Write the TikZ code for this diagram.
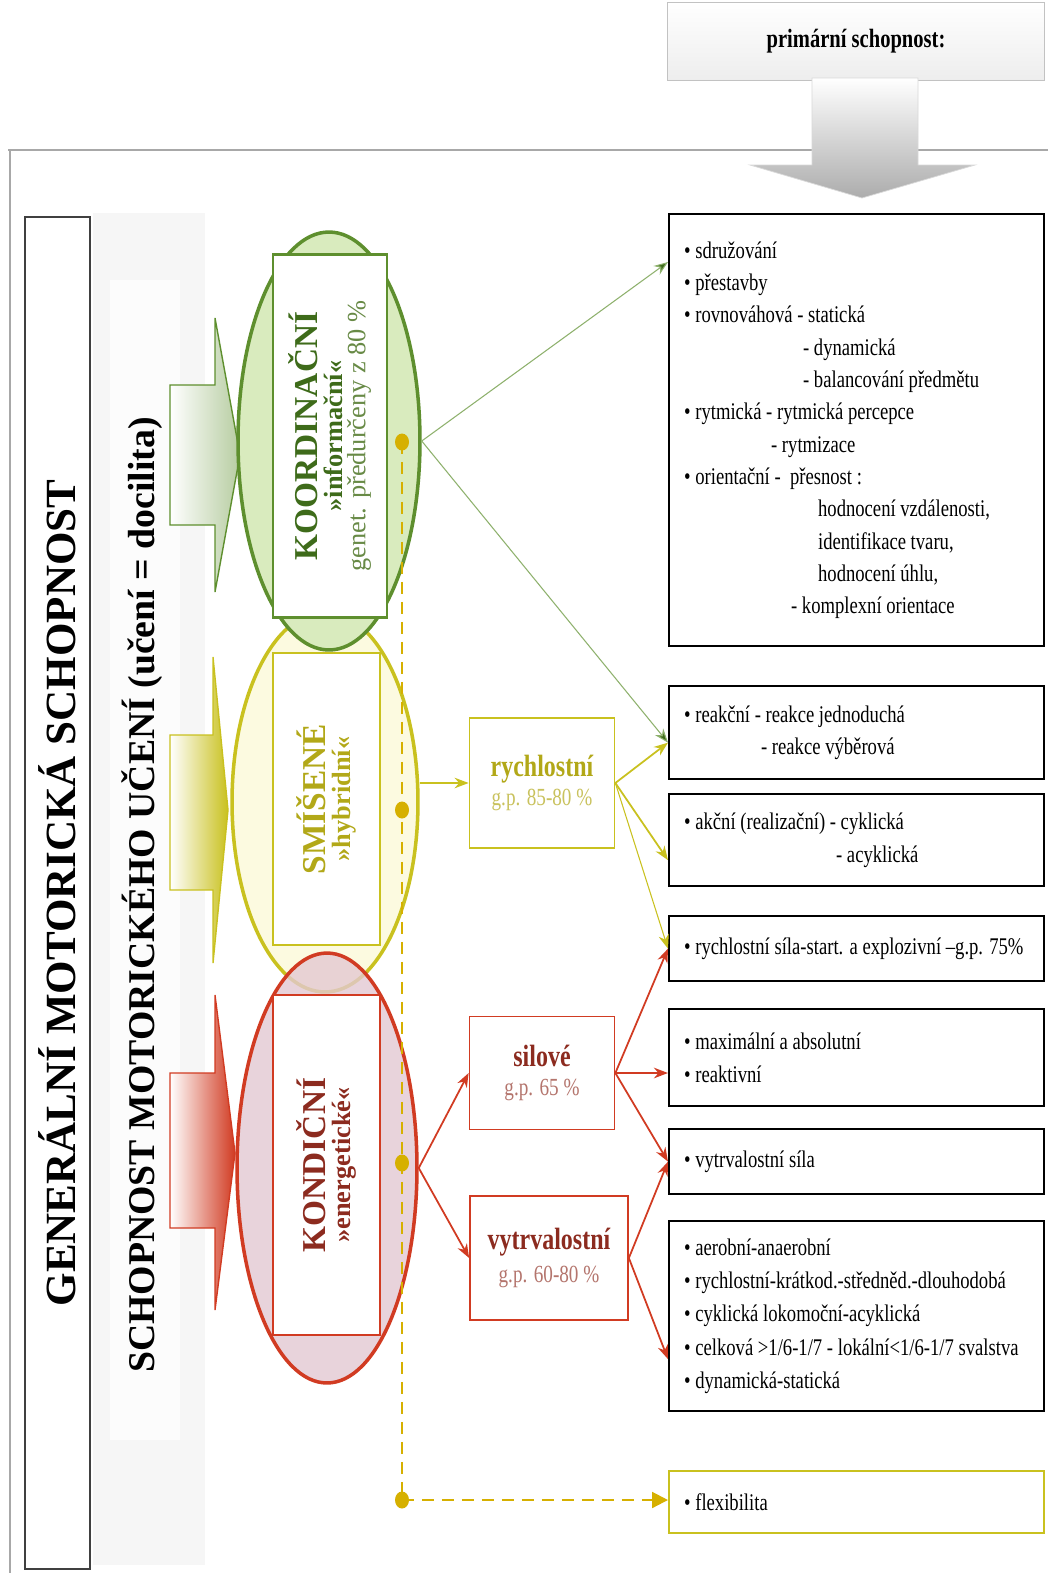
\documentclass[tikz,border=0pt]{standalone}
\usepackage{fontspec}
\setmainfont{Liberation Serif}
\newfontfamily\narrowfont{Liberation Serif}[FakeStretch=0.78,WordSpace=1.0]
\usetikzlibrary{arrows.meta,shapes.geometric}

\definecolor{koordgreen}{HTML}{5E8F2E}
\definecolor{koordfill}{HTML}{D9EBBE}
\definecolor{koordtext}{HTML}{3E6B1A}
\definecolor{smisyellow}{HTML}{C9C11F}
\definecolor{smisfill}{HTML}{FCFAE0}
\definecolor{smistext}{HTML}{B2A818}
\definecolor{kondred}{HTML}{D13B22}
\definecolor{kondfill}{HTML}{E3C9D2}
\definecolor{kondtext}{HTML}{8C2B1F}
\definecolor{dotgold}{HTML}{D6B000}
\definecolor{framegray}{HTML}{A8A8A8}

\tikzset{
	rbox/.style={draw=black, line width=1.3pt, fill=white, anchor=north west, align=flush left,
		text width=6.9cm, inner xsep=0.3cm, inner ysep=0pt,
		font=\narrowfont\fontsize{13.6}{18.4}\selectfont},
	mbox/.style={draw, line width=1pt, fill=white, align=center, inner sep=0pt,
		font=\narrowfont\fontsize{14}{16.5}\selectfont},
	ebox/.style={draw, line width=1.2pt, fill=white, rotate=90, align=center, inner sep=0pt,
		font=\fontsize{15}{13}\selectfont},
	blob/.style={ellipse, line width=2pt, inner sep=0pt},
	gline/.style={draw=koordgreen!70, line width=0.6pt, -{Stealth[length=8pt,width=6pt,fill=koordtext]}},
	yline/.style={draw=smisyellow, line width=1pt, -{Stealth[length=8pt,width=6pt]}},
	rline/.style={draw=kondred, line width=1pt, -{Stealth[length=8pt,width=6pt]}},
	dashline/.style={draw=dotgold, line width=1.2pt, dash pattern=on 0.24cm off 0.16cm},
}

\begin{document}
\begin{tikzpicture}[x=0.02cm,y=-0.02cm]
	\useasboundingbox (0,0) rectangle (1048,1573);
	\fill[white] (0,0) rectangle (1048,1573);

	% outer frame
	\draw[framegray, line width=0.6pt] (8,150) -- (1048,150);
	\draw[framegray, line width=0.6pt] (10,150) -- (10,1573);

	% primary ability + big arrow
	\node[draw=framegray!70, top color=white, bottom color=gray!14, minimum width=7.54cm,
		minimum height=1.56cm, font=\narrowfont\bfseries\fontsize{15}{18}\selectfont] (prim) at (856,41) {primární schopnost:};
	\draw[gray!30, top color=white, bottom color=gray!65]
		(812,78) -- (918,78) -- (918,165) -- (975,165) -- (862,198) -- (750,165) -- (812,165) -- cycle;

	% left columns
	\node[draw=black!75, line width=1pt, fill=white, rotate=90, minimum width=27.04cm, minimum height=1.3cm,
		font=\bfseries\fontsize{24.5}{28}\selectfont] (gen) at (57.5,893) {GENERÁLNÍ MOTORICKÁ SCHOPNOST};
	\fill[gray!7] (93,213) rectangle (205,1565);
	\fill[gray!2] (110,280) rectangle (180,1440);
	\node[rotate=90, font=\bfseries\fontsize{21.5}{26}\selectfont] (uceni) at (142,895) {SCHOPNOST MOTORICKÉHO UČENÍ (učení = docilita)};

	% block arrows
	\draw[koordgreen, line width=0.8pt, left color=white, right color=koordgreen!45]
		(170,385) -- (215,385) -- (215,318) -- (240,455) -- (215,592) -- (215,525) -- (170,525) -- cycle;
	\draw[smisyellow, line width=0.8pt, left color=white, right color=smisyellow]
		(170,735) -- (213,735) -- (213,657) -- (228,810) -- (213,963) -- (213,890) -- (170,890) -- cycle;
	\draw[kondred, line width=0.8pt, left color=white, right color=kondred]
		(170,1073) -- (215,1073) -- (215,995) -- (235,1153) -- (215,1310) -- (215,1228) -- (170,1228) -- cycle;

	% ellipses
	\node[blob, draw=smisyellow, fill=smisfill, minimum width=3.72cm, minimum height=7.6cm] (smis) at (325,802) {};
	\node[blob, draw=kondred, fill=kondfill, fill opacity=0.8, minimum width=3.6cm, minimum height=8.6cm] (kond) at (327,1168) {};
	\node[blob, draw=koordgreen, fill=koordfill, minimum width=3.64cm, minimum height=8.36cm] (koord) at (329,441) {};

	\node[ebox, draw=koordgreen, minimum width=7.26cm, minimum height=2.28cm] (koordbox) at (330,436)
		{{\color{koordtext}\bfseries\fontsize{19}{21}\selectfont KOORDINAČNÍ}\\[1pt]
		 {\color{koordtext}\bfseries »informační«}\\
		 {\color{koordgreen!70!gray}genet. předurčeny z 80 \%}};
	\node[ebox, draw=smisyellow, minimum width=5.84cm, minimum height=2.14cm] (smisbox) at (326.5,799)
		{{\color{smistext}\bfseries\fontsize{19}{21}\selectfont SMÍŠENÉ}\\[1pt]
		 {\color{smistext}\bfseries »hybridní«}};
	\node[ebox, draw=kondred, minimum width=6.8cm, minimum height=2.14cm] (kondbox) at (326.5,1165)
		{{\color{kondtext}\bfseries\fontsize{19}{21}\selectfont KONDIČNÍ}\\[1pt]
		 {\color{kondtext}\bfseries »energetické«}};

	% dashed flexibility line
	\coordinate (d1) at (402,442);
	\coordinate (d2) at (402,810);
	\coordinate (d3) at (402,1163);
	\coordinate (d4) at (402,1500);

	% middle boxes
	\node[mbox, draw=smisyellow, minimum width=2.9cm, minimum height=2.6cm] (rych) at (542,783)
		{{\color{smistext}\bfseries\fontsize{17.5}{17}\selectfont rychlostní}\\
		 {\color{smistext!70}g.p. 85-80 \%}};
	\node[mbox, draw=kondred, minimum width=2.9cm, minimum height=2.26cm] (sil) at (542,1073)
		{{\color{kondtext}\bfseries\fontsize{17.5}{17}\selectfont silové}\\
		 {\color{kondtext!65}g.p. 65 \%}};
	\node[mbox, draw=kondred, minimum width=3.16cm, minimum height=2.48cm] (vytr) at (549,1258)
		{{\color{kondtext}\bfseries\fontsize{17.5}{19}\selectfont vytrvalostní}\\[2pt]
		 {\color{kondtext!65}g.p. 60-80 \%}};

	% right boxes
	\node[rbox, minimum height=8.64cm] (b1) at (668,213)
		{\textbullet{} sdružování\\
		 \textbullet{} přestavby\\
		 \textbullet{} rovnováhová - statická\\
		 \hspace*{2.38cm}- dynamická\\
		 \hspace*{2.38cm}- balancování předmětu\\
		 \textbullet{} rytmická - rytmická percepce\\
		 \hspace*{1.74cm}- rytmizace\\
		 \textbullet{} orientační -\ \ přesnost :\\
		 \hspace*{2.68cm}hodnocení vzdálenosti,\\
		 \hspace*{2.68cm}identifikace tvaru,\\
		 \hspace*{2.68cm}hodnocení úhlu,\\
		 \hspace*{2.14cm}- komplexní orientace};
	\node[rbox, minimum height=1.86cm] (b2) at (668,685)
		{\textbullet{} reakční - reakce jednoduchá\\
		 \hspace*{1.54cm}- reakce výběrová};
	\node[rbox, minimum height=1.84cm] (b3) at (668,793)
		{\textbullet{} akční (realizační) - cyklická\\
		 \hspace*{3.04cm}- acyklická};
	\node[rbox, minimum height=1.3cm] (b4) at (668,915)
		{\mbox{\textbullet{} rychlostní síla-start. a explozivní –g.p. 75\%}};
	\node[rbox, minimum height=1.94cm] (b5) at (668,1008)
		{\textbullet{} maximální a absolutní\\
		 \textbullet{} reaktivní};
	\node[rbox, minimum height=1.3cm] (b6) at (668,1128)
		{\textbullet{} vytrvalostní síla};
	\node[rbox, minimum height=3.8cm, font=\narrowfont\fontsize{13.6}{19}\selectfont] (b7) at (668,1220)
		{\textbullet{} aerobní-anaerobní\\
		 \mbox{\textbullet{} rychlostní-krátkod.-středněd.-dlouhodobá}\\
		 \textbullet{} cyklická lokomoční-acyklická\\
		 \mbox{\textbullet{} celková >1/6-1/7 - lokální<1/6-1/7 svalstva}\\
		 \textbullet{} dynamická-statická};
	\node[rbox, draw=smisyellow, minimum height=1.24cm] (flex) at (668,1470)
		{\textbullet{} flexibilita};

	% dashed line and dots
	\draw[dashline] (d1) -- (d4);
	\draw[dashline, -{Triangle[length=9pt,width=9pt]}] (d4) -- (d4 -| flex.west);
	\foreach \d in {d1,d2,d3,d4}
		\fill[dotgold] (\d) ellipse [x radius=0.14cm, y radius=0.17cm];

	% connectors
	\draw[gline] (koord.east) -- ([yshift=-0.98cm]b1.north west);
	\draw[gline] (koord.east) -- ([yshift=-0.2cm]b2.west);

	\draw[yline] (smis.east |- rych.west) -- (rych.west);
	\draw[yline] (rych.east) -- ([yshift=-0.2cm]b2.west);
	\draw[yline] (rych.east) -- ([yshift=-0.4cm]b3.west);
	\draw[yline, line width=0.6pt] (rych.east) -- (b4.west);

	\draw[rline] (kond.east) -- (sil.west);
	\draw[rline] (kond.east) -- (vytr.west);
	\draw[rline] (sil.east) -- (b4.west);
	\draw[rline, line width=1.4pt] (sil.east) -- (sil.east -| b5.west);
	\draw[rline] (sil.east) -- (b6.west);
	\draw[rline] (vytr.east) -- (b6.west);
	\draw[rline] (vytr.east) -- ([yshift=-0.86cm]b7.west);
\end{tikzpicture}
\end{document}
